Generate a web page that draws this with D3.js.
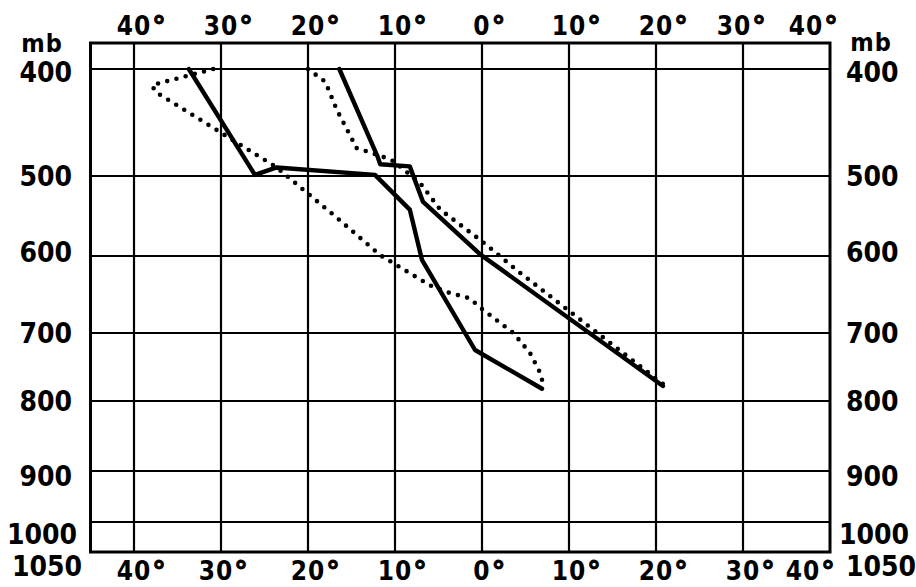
<!DOCTYPE html>
<html>

<head>
  <title>Sounding diagram</title>
  <script src="https://d3js.org/d3.v7.min.js"></script>
  <style>
    body {
      margin: 0;
      background: #fff;
    }

    svg#chart {
      display: block;
    }

    .lbl {
      font-family: "DejaVu Sans Condensed", "DejaVu Sans", sans-serif;
      font-weight: bold;
      fill: #000;
    }

    .deg {
      font-family: "DejaVu Sans", sans-serif;
      stroke: #000;
      stroke-width: 1px;
    }

    .grid line {
      stroke: #000;
      stroke-width: 2.2px;
    }
  </style>
</head>

<body>
  <svg id="chart" width="916" height="587"></svg>

  <script>
    // pressure levels (mb) and temperature grid (°C)
    const pressureTicks = [400, 500, 600, 700, 800, 900, 1000, 1050];
    const tempTicks = [-40, -30, -20, -10, 0, 10, 20, 30, 40];
    const tempTickLabels = ["40", "30", "20", "10", "0", "10", "20", "30", "40"];

    // solid curve, left
    const curveATemp = [-33.7, -26.1, -23.6, -12.3, -8.3, -6.9, -0.8, 6.9];
    const curveAPres = [400, 499, 492, 499, 542, 605, 725, 782];

    // solid curve, right
    const curveBTemp = [-16.4, -12.0, -11.7, -8.3, -6.8, -0.2, 20.8];
    const curveBPres = [400, 482, 489, 491, 532, 598, 778];

    // dotted curve, left
    const curveCTemp = [-30.9, -37.9, -37.6, -30.1, -23.6, -16.7, -11.7, -6.0, -4.0, -1.4, -0.2, 2.1, 3.6, 5.5, 6.7, 7.0];
    const curveCPres = [400, 415, 421, 459, 492, 552, 599, 638, 647, 655, 667, 687, 700, 729, 759, 774];

    // dotted curve, right
    const curveDTemp = [-20.0, -18.0, -16.7, -14.4, -11.7, -10.2, -7.1, -4.8, -0.2, 4.4, 21.0];
    const curveDPres = [400, 412, 438, 474, 481, 486, 509, 542, 580, 622, 777];

    const svg = d3.select("#chart");

    const x = d3.scaleLinear().domain([-40, 40]).range([134, 830]);
    // the printed pressure axis is not quite logarithmic, so map it piece by piece
    const y = d3.scaleLinear()
      .domain(pressureTicks)
      .range([69, 176, 256, 333, 401, 471, 522, 552]);

    const frameL = x(-45), frameR = x(40), frameT = y(400) - 26, frameB = y(1050);

    // grid
    const grid = svg.append("g").attr("class", "grid");
    grid.selectAll(".h").data(pressureTicks.slice(0, -1)).enter().append("line")
      .attr("x1", frameL).attr("x2", frameR)
      .attr("y1", d => y(d)).attr("y2", d => y(d));
    grid.selectAll(".v").data(tempTicks.slice(0, -1)).enter().append("line")
      .attr("x1", d => x(d)).attr("x2", d => x(d))
      .attr("y1", frameT).attr("y2", frameB);

    // frame
    svg.append("rect")
      .attr("x", frameL).attr("y", frameT)
      .attr("width", frameR - frameL).attr("height", frameB - frameT)
      .attr("fill", "none")
      .attr("stroke", "#000")
      .attr("stroke-width", 3);

    // curves
    const line = d3.line().x(d => x(d[0])).y(d => y(d[1]));
    const curves = [
      { t: curveATemp, p: curveAPres, dotted: false },
      { t: curveBTemp, p: curveBPres, dotted: false },
      { t: curveCTemp, p: curveCPres, dotted: true },
      { t: curveDTemp, p: curveDPres, dotted: true }
    ];
    curves.forEach(c => {
      svg.append("path")
        .datum(d3.zip(c.t, c.p))
        .attr("fill", "none")
        .attr("stroke", "#000")
        .attr("stroke-width", c.dotted ? 4.6 : 4.4)
        .attr("stroke-linejoin", "round")
        .attr("stroke-linecap", "round")
        .attr("stroke-dasharray", c.dotted ? "0 9.5" : null)
        .attr("d", line);
    });

    // pressure labels, both sides
    const pNudge = { 400: 3, 600: -4, 900: 5, 1000: 12, 1050: 14 };
    const pNudgeX = { 1000: 5, 1050: 10 };
    pressureTicks.forEach(p => {
      const yy = y(p) + 10 + (pNudge[p] || 0);
      svg.append("text").attr("class", "lbl")
        .attr("x", 72 + (pNudgeX[p] || 0)).attr("y", yy)
        .attr("text-anchor", "end")
        .attr("font-size", 28)
        .text(p);
      svg.append("text").attr("class", "lbl")
        .attr("x", p === 1000 ? 839 : 846).attr("y", yy)
        .attr("font-size", 28)
        .text(p);
    });

    [[42, 52], [871, 51]].forEach(([mx, my]) => {
      svg.append("text").attr("class", "lbl")
        .attr("x", mx).attr("y", my)
        .attr("text-anchor", "middle")
        .attr("font-size", 25).attr("letter-spacing", 1)
        .text("mb");
    });

    // temperature labels, top and bottom
    const topNudge = { 30: -9, 40: -24 };
    const bottomNudge = { "-30": -5, 40: -27 };
    [[35, topNudge], [580, bottomNudge]].forEach(([by, nudge]) => {
      tempTicks.forEach((t, i) => {
        const txt = svg.append("text").attr("class", "lbl")
          .attr("y", by)
          .attr("font-size", 26).attr("letter-spacing", 1);
        const num = txt.append("tspan").text(tempTickLabels[i]);
        txt.append("tspan").attr("class", "deg").attr("font-size", 27).attr("dx", 1).text("°");
        const w = num.node().getComputedTextLength();
        txt.attr("x", x(t) - w / 2 + (nudge[t] || 0));
      });
    });
  </script>
</body>

</html>
